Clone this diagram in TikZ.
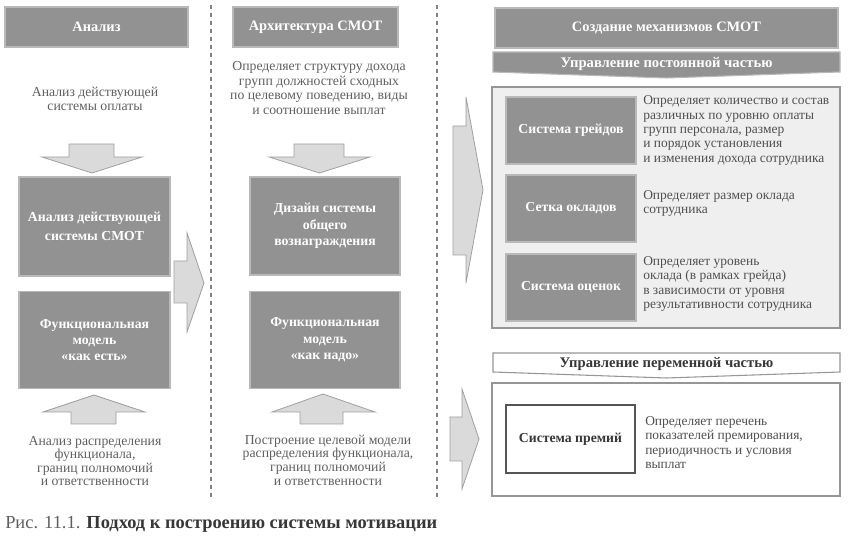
\documentclass[tikz,border=0pt]{standalone}
\usepackage{fontspec}
\setmainfont{Liberation Serif}
\definecolor{boxfill}{RGB}{146,146,146}
\definecolor{boxedge}{RGB}{185,185,185}
\definecolor{arrowfill}{RGB}{218,218,218}
\definecolor{arrowedge}{RGB}{160,160,160}
\definecolor{panelfill}{RGB}{239,239,239}
\definecolor{paneledge}{RGB}{150,150,150}
\definecolor{desctext}{RGB}{95,95,95}
\definecolor{paneltext}{RGB}{80,80,80}
\definecolor{darktext}{RGB}{55,55,55}
\definecolor{dashcol}{RGB}{130,130,130}
\begin{document}
\begin{tikzpicture}[x=0.75pt,y=-0.75pt,
  sz/.style 2 args={minimum width=#1*0.75pt, minimum height=#2*0.75pt},
  darkbox/.style={draw=boxedge, fill=boxfill, text=white, line width=0.8pt, inner sep=0pt, align=center,
    font=\bfseries\fontsize{10.3}{12.3}\selectfont},
  headbox/.style={darkbox, line width=1.2pt, font=\bfseries\fontsize{10.8}{12.5}\selectfont},
  desc/.style={text=desctext, inner sep=0pt, align=center, font=\fontsize{10.3}{11}\selectfont},
  ptext/.style={text=paneltext, inner sep=0pt, align=left, anchor=west, font=\fontsize{10.1}{10.7}\selectfont},
  blockarrow/.style={draw=arrowedge, fill=arrowfill, line width=0.6pt, line join=miter},
  dashline/.style={draw=dashcol, line width=0.8pt, dash pattern=on 3pt off 3pt}]
\useasboundingbox (0,0) rectangle (850,541);

% column separators
\coordinate (s1a) at (211,5); \coordinate (s1b) at (211,499);
\coordinate (s2a) at (437,5); \coordinate (s2b) at (437,499);
\draw[dashline] (s1a) -- (s1b);
\draw[dashline] (s2a) -- (s2b);

% headers
\node[headbox, sz={183}{40}] (h1) at (96.5,27) {Анализ};
\node[headbox, sz={165}{40}] (h2) at (315.5,27) {Архитектура СМОТ};
\node[headbox, sz={343}{40}] (h3) at (666.5,28) {Создание механизмов СМОТ};

% column 1
\node[desc] (t1) at (95,99) {Анализ действующей\\системы оплаты};
\draw[blockarrow] (69,144) -- (114,144) -- (114,157) -- (142,157) -- (92,173) -- (42,157) -- (69,157) -- cycle;
\node[darkbox, sz={151}{99}] (b1) at (94.5,226.5) {Анализ действующей\\[2pt]системы СМОТ};
\node[darkbox, sz={151}{97}] (b2) at (94.5,340) {Функциональная\\модель\\«как есть»};
\draw[blockarrow] (94,395) -- (145,412) -- (116,412) -- (116,424) -- (71,424) -- (71,412) -- (43,412) -- cycle;
\node[desc, font=\fontsize{10.3}{10.2}\selectfont] (t3) at (95,461) {Анализ распределения\\функционала,\\границ полномочий\\и ответственности};

% arrow col1 -> col2
\draw[blockarrow] (174,261) -- (187,261) -- (187,233) -- (204,283) -- (187,332) -- (187,303) -- (174,303) -- cycle;

% column 2
\node[desc] (t2) at (319,88) {Определяет структуру дохода\\групп должностей сходных\\по целевому поведению, виды\\и соотношение выплат};
\draw[blockarrow] (294,144) -- (344,144) -- (344,157) -- (370,157) -- (319.5,173) -- (269,157) -- (294,157) -- cycle;
\node[darkbox, sz={150}{98}] (c1) at (325,226) {Дизайн системы\\общего\\вознаграждения};
\node[darkbox, sz={150}{97}] (c2) at (325,340) {Функциональная\\модель\\«как надо»};
\draw[blockarrow] (323,394) -- (375,412) -- (343,412) -- (343,424) -- (300,424) -- (300,412) -- (272,412) -- cycle;
\node[desc, font=\fontsize{10.3}{10.2}\selectfont] (t4) at (328,460) {Построение целевой модели\\распределения функционала,\\границ полномочий\\и ответственности};

% arrows col2 -> col3
\draw[blockarrow] (453,126) -- (466,126) -- (466,97) -- (483,190) -- (466,283) -- (466,255) -- (453,255) -- cycle;
\draw[blockarrow] (450,417) -- (462,417) -- (462,389) -- (479,439) -- (462,489) -- (462,461) -- (450,461) -- cycle;

% constant part
\draw[draw=boxedge, fill=boxfill, line width=0.8pt] (493,52) -- (840,52) -- (840,72) -- (666.5,78) -- (493,72) -- cycle;
\node[text=white, font=\bfseries\fontsize{11}{12}\selectfont, inner sep=0pt] (k1) at (666.5,64) {Управление постоянной частью};
\draw[draw=paneledge, fill=panelfill, line width=0.8pt] (492,87) rectangle (840,328);
\node[darkbox, sz={130}{67}] (g1) at (571,130.5) {Система грейдов};
\node[darkbox, sz={130}{67}] (g2) at (571,208.5) {Сетка окладов};
\node[darkbox, sz={130}{67}] (g3) at (571,287.5) {Система оценок};
\node[ptext] (d1) at (643,130.5) {Определяет количество и состав\\различных по уровню оплаты\\групп персонала, размер\\и порядок установления\\и изменения дохода сотрудника};
\node[ptext] (d2) at (643,203.5) {Определяет размер оклада\\сотрудника};
\node[ptext] (d3) at (643,284) {Определяет уровень\\оклада (в рамках грейда)\\в зависимости от уровня\\результативности сотрудника};

% variable part
\draw[draw=paneledge, fill=white, line width=0.8pt] (493,353) -- (840,353) -- (840,372) -- (666.5,378) -- (493,372) -- cycle;
\node[text=darktext, font=\bfseries\fontsize{11}{12}\selectfont, inner sep=0pt] (k2) at (666.5,364) {Управление переменной частью};
\draw[draw=paneledge, fill=white, line width=0.8pt] (492,383) rectangle (840,496);
\node[draw=darktext!85, fill=white, line width=1pt, text=darktext, inner sep=0pt, sz={129}{68},
  font=\bfseries\fontsize{10.3}{12}\selectfont] (p1) at (570.5,439) {Система премий};
\node[ptext] (d4) at (645,442.5) {Определяет перечень\\показателей премирования,\\периодичность и условия\\выплат};

% caption
\node[anchor=base west, inner sep=0pt, font=\fontsize{13.8}{15}\selectfont] (cap) at (5,528)
  {\textcolor{desctext}{Рис. 11.1.} \textcolor{darktext}{\bfseries Подход к построению системы мотивации}};
\end{tikzpicture}
\end{document}
